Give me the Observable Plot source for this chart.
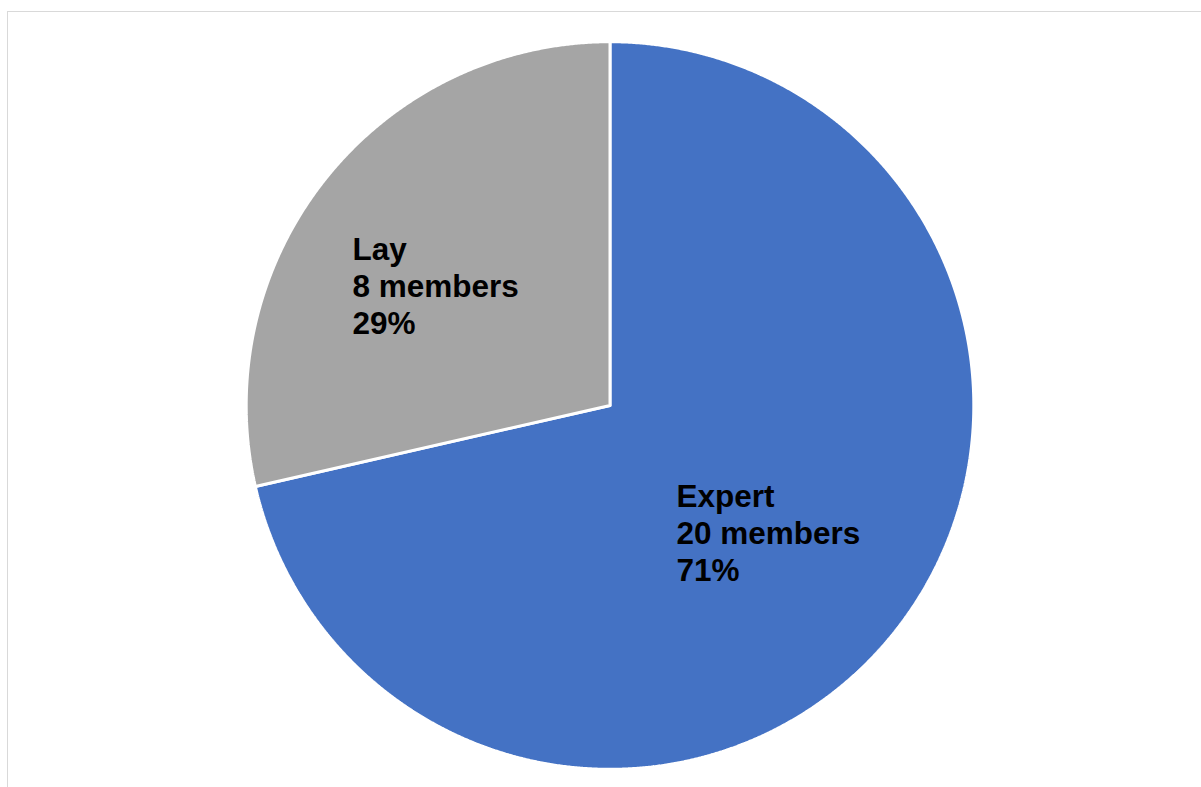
<!DOCTYPE html>
<html><head><meta charset="utf-8">
<script src="https://cdn.jsdelivr.net/npm/d3@7"></script>
<script src="https://cdn.jsdelivr.net/npm/@observablehq/plot@0.6"></script>
<style>
html,body{margin:0;padding:0;background:#fff;}
#wrap{position:relative;width:1201px;height:787px;overflow:hidden;}
#chart{position:absolute;left:0;top:0;}
#border{position:absolute;left:7px;top:11px;width:1300px;height:900px;border-left:1.5px solid #d9d9d9;border-top:1.5px solid #d9d9d9;pointer-events:none;}
</style></head><body>
<div id="wrap"><div id="chart"></div><div id="border"></div></div>
<script>
// ---- data ----
const categories = ["Expert", "Lay"];
const members = [20, 8];
const percentLabels = ["71%", "29%"];
const colors = ["#4472C4", "#A5A5A5"];

// ---- layout ----
const W = 1201, H = 787;
const cx = 609.5, cy = 405, R = 363.8;
const fontSize = 31.5;
const fontFamily = "'Liberation Sans', Arial, sans-serif";

const data = categories.map((c, i) => ({category: c, value: members[i], pct: percentLabels[i]}));
const arcs = d3.pie().sort(null).value(d => d.value)(data);

// slice outlines from pie angles (clockwise from 12 o'clock)
const pts = [];
arcs.forEach(a => {
  const c = a.data.category;
  const n = Math.max(2, Math.ceil((a.endAngle - a.startAngle) / 0.004));
  pts.push({category: c, x: 0, y: 0});
  for (let k = 0; k <= n; k++) {
    const t = a.startAngle + (a.endAngle - a.startAngle) * k / n;
    pts.push({category: c, x: Math.sin(t), y: Math.cos(t)});
  }
  pts.push({category: c, x: 0, y: 0});
});

// labels: left-aligned block centred along the mid-angle
const ctx = document.createElement("canvas").getContext("2d");
ctx.font = `bold ${fontSize}px ${fontFamily}`;
const labels = arcs.map(a => {
  const mid = (a.startAngle + a.endAngle) / 2;
  const lines = [a.data.category, `${a.data.value} members`, a.data.pct];
  const w = Math.max(...lines.map(l => ctx.measureText(l).width));
  return {
    x: 0.585 * Math.sin(mid) - (w / 2) / R,
    y: 0.545 * Math.cos(mid),
    text: lines.join("\n")
  };
});

const chart = Plot.plot({
  width: W,
  height: H,
  marginLeft: cx - R,
  marginRight: W - (cx + R),
  marginTop: cy - R,
  marginBottom: H - (cy + R),
  x: {domain: [-1, 1], axis: null},
  y: {domain: [-1, 1], axis: null},
  color: {domain: categories, range: colors},
  style: {background: "transparent"},
  marks: [
    Plot.line(pts, {x: "x", y: "y", z: "category", fill: "category", stroke: "white", strokeWidth: 3, strokeLinejoin: "miter"}),
    Plot.text(labels, {x: "x", y: "y", text: "text", textAnchor: "start", lineAnchor: "middle", dx: -8, dy: 3,
      lineHeight: 1.17, fontSize: fontSize, fontWeight: "bold", fontFamily: fontFamily, fill: "black"})
  ]
});
document.getElementById("chart").appendChild(chart);
</script>
</body></html>
